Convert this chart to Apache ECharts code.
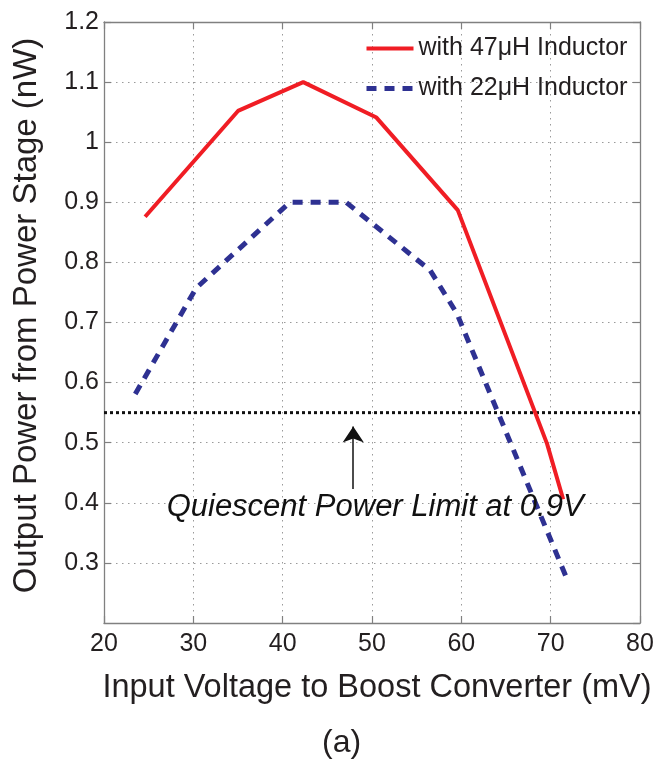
<!DOCTYPE html>
<html><head><meta charset="utf-8">
<script src="https://cdn.jsdelivr.net/npm/echarts@6/dist/echarts.min.js"></script>
<style>html,body{margin:0;padding:0;background:#fff}#c{width:660px;height:768px}</style>
</head><body><div id="c"></div>
<script>
const seriesNames = ['with 47\u03BCH Inductor', 'with 22\u03BCH Inductor'];
const x47 = [24.6, 35.0, 42.3, 50.5, 59.6, 69.6, 71.4];
const y47 = [0.876, 1.052, 1.100, 1.041, 0.887, 0.498, 0.406];
const x22 = [23.5, 30.3, 40.8, 47.1, 56.5, 59.5, 72.0];
const y22 = [0.581, 0.757, 0.900, 0.900, 0.787, 0.715, 0.267];
const xTicks = [20, 30, 40, 50, 60, 70, 80];
const yTicks = [0.2, 0.3, 0.4, 0.5, 0.6, 0.7, 0.8, 0.9, 1.0, 1.1, 1.2];
const limitX = [20, 80];
const limitY = [0.55, 0.55];
const arrowX = [47.9, 47.9];
const arrowY = [0.423, 0.527];
const annotationText = 'Quiescent Power Limit at 0.9V';
const annotationPos = [50.35, 0.393];
const xTitle = 'Input Voltage to Boost Converter (mV)';
const yTitle = 'Output Power from Power Stage (nW)';
const caption = '(a)';

const FONT = '"Liberation Sans", Arial, Helvetica, sans-serif';
const TXT = '#231f20';
const AX = '#808080';
const RED = '#f01d24';
const BLUE = '#2e3192';

const pairs = (xs, ys) => xs.map((x, i) => [x, ys[i]]);

const chart = echarts.init(document.getElementById('c'), null, {renderer: 'canvas'});

const gridLine = {show: true, lineStyle: {color: '#9a9a9a', width: 1, type: [1.5, 4.5]}};
const baseX = {
  type: 'value', min: xTicks[0], max: xTicks[xTicks.length - 1], interval: 10,
  axisLine: {show: true, onZero: false, lineStyle: {color: AX, width: 1.3}},
  axisTick: {show: true, inside: true, length: 7, lineStyle: {color: AX, width: 1.2}},
};
const baseY = {
  type: 'value', min: yTicks[0], max: yTicks[yTicks.length - 1], interval: 0.1,
  axisLine: {show: true, onZero: false, lineStyle: {color: AX, width: 1.3}},
  axisTick: {show: true, inside: true, length: 7, lineStyle: {color: AX, width: 1.2}},
};

chart.setOption({
  animation: false,
  backgroundColor: '#ffffff',
  textStyle: {fontFamily: FONT},
  grid: {left: 104, top: 22, right: 20, bottom: 145, containLabel: false},
  legend: {
    data: [
      {name: seriesNames[0], lineStyle: {width: 4, color: RED, type: 'solid'}},
      {name: seriesNames[1], lineStyle: {width: 5, color: BLUE, type: [10, 8]}},
    ],
    orient: 'vertical', left: 364, top: 36, padding: 0,
    itemWidth: 47, itemHeight: 14, itemGap: 15,
    itemStyle: {opacity: 0},
    textStyle: {fontSize: 25, color: TXT, fontFamily: FONT},
  },
  xAxis: [
    Object.assign({}, baseX, {
      position: 'bottom',
      axisLabel: {fontSize: 25, color: TXT, margin: 9, fontFamily: FONT},
      splitLine: gridLine,
      name: xTitle, nameLocation: 'middle', nameGap: 49,
      nameTextStyle: {fontSize: 32.5, color: TXT, fontFamily: FONT, padding: [0, 0, 0, 10]},
    }),
    Object.assign({}, baseX, {
      position: 'top', axisLabel: {show: false}, splitLine: {show: false},
    }),
  ],
  yAxis: [
    Object.assign({}, baseY, {
      position: 'left',
      axisLabel: {fontSize: 25, color: TXT, margin: 5, fontFamily: FONT, showMinLabel: false},
      splitLine: gridLine,
      name: yTitle, nameLocation: 'middle', nameGap: 61, nameRotate: 90,
      nameTextStyle: {fontSize: 33, color: TXT, fontFamily: FONT, padding: [0, 0, 0, 14]},
    }),
    Object.assign({}, baseY, {
      position: 'right', axisLabel: {show: false}, splitLine: {show: false},
    }),
  ],
  series: [
    {
      name: seriesNames[0], type: 'line', data: pairs(x47, y47),
      symbol: 'none', showSymbol: false,
      lineStyle: {color: RED, width: 4},
      itemStyle: {color: RED},
      z: 4,
    },
    {
      name: seriesNames[1], type: 'line', data: pairs(x22, y22),
      symbol: 'none', showSymbol: false,
      lineStyle: {color: BLUE, width: 5, type: [10, 8]},
      itemStyle: {color: BLUE},
      z: 3,
    },
    {
      name: 'limit', type: 'line', data: pairs(limitX, limitY),
      symbol: 'none', showSymbol: false, silent: true,
      lineStyle: {color: '#111', width: 3, type: [3, 3]},
      z: 2,
      markLine: {
        silent: true, animation: false,
        symbol: ['none', 'arrow'], symbolSize: [16, 16],
        label: {show: false},
        lineStyle: {color: '#111', width: 1.5, type: 'solid'},
        data: [[{coord: [arrowX[0], arrowY[0]]}, {coord: [arrowX[1], arrowY[1]]}]],
      },
      markPoint: {
        silent: true, animation: false,
        symbol: 'rect', symbolSize: 1,
        itemStyle: {color: 'rgba(0,0,0,0)'},
        label: {
          show: true, position: 'inside', formatter: annotationText,
          fontSize: 31, fontStyle: 'italic', color: '#111', fontFamily: FONT,
        },
        data: [{coord: annotationPos}],
      },
    },
  ],
  graphic: [{
    type: 'text', left: 322, top: 727,
    style: {text: caption, fontSize: 32, fill: TXT, fontFamily: FONT},
  }],
});
</script></body></html>
